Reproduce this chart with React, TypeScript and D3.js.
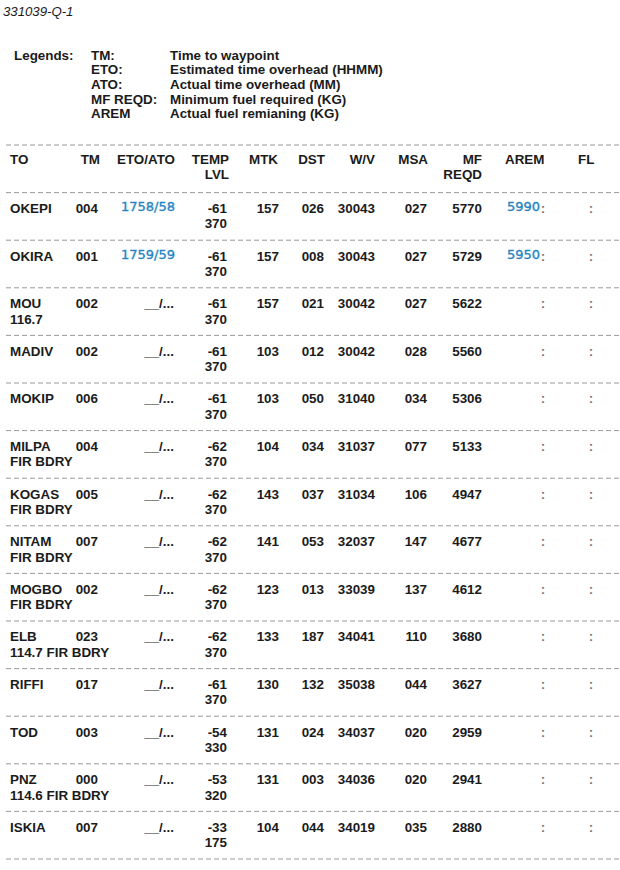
import { useEffect, useRef } from "react"
import * as d3 from "d3"

const title = "331039-Q-1"

const legendKeys = ["TM:", "ETO:", "ATO:", "MF REQD:", "AREM"]
const legendDefs = [
  "Time to waypoint",
  "Estimated time overhead (HHMM)",
  "Actual time overhead (MM)",
  "Minimum fuel required (KG)",
  "Actual fuel remianing (KG)",
]

const headers = [["TO"], ["TM"], ["ETO/ATO"], ["TEMP", "LVL"], ["MTK"], ["DST"], ["W/V"], ["MSA"], ["MF", "REQD"], ["AREM"], ["FL"]]

const waypoints = ["OKEPI", "OKIRA", "MOU", "MADIV", "MOKIP", "MILPA", "KOGAS", "NITAM", "MOGBO", "ELB", "RIFFI", "TOD", "PNZ", "ISKIA"]
const waypointSub = ["", "", "116.7", "", "", "FIR BDRY", "FIR BDRY", "FIR BDRY", "FIR BDRY", "114.7 FIR BDRY", "", "", "114.6 FIR BDRY", ""]
const tm = ["004", "001", "002", "002", "006", "004", "005", "007", "002", "023", "017", "003", "000", "007"]
const etoAto = ["1758/58", "1759/59", "", "", "", "", "", "", "", "", "", "", "", ""]
const temp = ["-61", "-61", "-61", "-61", "-61", "-62", "-62", "-62", "-62", "-62", "-61", "-54", "-53", "-33"]
const lvl = ["370", "370", "370", "370", "370", "370", "370", "370", "370", "370", "370", "330", "320", "175"]
const mtk = ["157", "157", "157", "103", "103", "104", "143", "141", "123", "133", "130", "131", "131", "104"]
const dst = ["026", "008", "021", "012", "050", "034", "037", "053", "013", "187", "132", "024", "003", "044"]
const wv = ["30043", "30043", "30042", "30042", "31040", "31037", "31034", "32037", "33039", "34041", "35038", "34037", "34036", "34019"]
const msa = ["027", "027", "027", "028", "034", "077", "106", "147", "137", "110", "044", "020", "020", "035"]
const mfReqd = [5770, 5729, 5622, 5560, 5306, 5133, 4947, 4677, 4612, 3680, 3627, 2959, 2941, 2880]
const arem = ["5990", "5950", "", "", "", "", "", "", "", "", "", "", "", ""]

const W = 620
const H = 870
const FONT = "'Liberation Sans', Arial, Helvetica, sans-serif"
const BLUE_FONT = "'DejaVu Sans', Verdana, sans-serif"
const FS = 13.4
const INK = "#1b1b1b"
const BLUE = "#2485c2"

// header x / anchor per column
const headerPos: [number, string][] = [
  [10, "start"], [100, "end"], [175, "end"], [229, "end"], [278, "end"], [325, "end"],
  [375, "end"], [428, "end"], [482, "end"], [505, "start"], [578, "start"],
]

export default function App() {
  const ref = useRef<SVGSVGElement>(null)

  useEffect(() => {
    if (!ref.current) return
    const svg = d3.select(ref.current)
    svg.selectAll("*").remove()

    // title
    svg.append("text")
      .attr("x", 3).attr("y", 16)
      .attr("font-family", FONT).attr("font-size", 13.2).attr("font-style", "italic")
      .attr("fill", INK).text(title)

    // legends
    const ly = d3.scaleLinear().domain([0, 1]).range([59.5, 74.2])
    const lg = svg.append("g").attr("font-family", FONT).attr("font-size", FS)
      .attr("font-weight", "bold").attr("fill", INK)
    lg.append("text").attr("x", 14).attr("y", ly(0)).text("Legends:")
    lg.selectAll("text.key").data(legendKeys).join("text").attr("class", "key")
      .attr("x", 91).attr("y", (_, i) => ly(i)).text((d) => d)
    lg.selectAll("text.def").data(legendDefs).join("text").attr("class", "def")
      .attr("x", 170).attr("y", (_, i) => ly(i)).text((d) => d)

    // rows: separator k sits at y(k); band 0 is the header
    const y = d3.scaleLinear().domain([0, waypoints.length + 1]).range([145, 859])
    const L1 = 20.3
    const L2 = 35.8

    svg.append("g").selectAll("line")
      .data(d3.range(waypoints.length + 2))
      .join("line")
      .attr("x1", 6).attr("x2", W)
      .attr("y1", (d) => y(d)).attr("y2", (d) => y(d))
      .attr("stroke", "#9a9a9a").attr("stroke-width", 1)
      .attr("stroke-dasharray", "5,3")

    // header
    const hg = svg.append("g").attr("font-family", FONT).attr("font-size", FS)
      .attr("font-weight", "bold").attr("fill", INK)
    headers.forEach((lines, c) => {
      lines.forEach((t, k) => {
        hg.append("text")
          .attr("x", headerPos[c][0]).attr("y", y(0) + (k === 0 ? L1 - 1.5 : L2 - 1.5))
          .attr("text-anchor", headerPos[c][1]).text(t)
      })
    })

    const bg = svg.append("g").attr("font-family", FONT).attr("font-size", FS)
      .attr("font-weight", "bold").attr("fill", INK)

    const cell = (x: number, anchor: string, values: (string | number)[], line: number) => {
      bg.append("g").attr("text-anchor", anchor).selectAll("text")
        .data(values).join("text")
        .attr("x", x).attr("y", (_, i) => y(i + 1) + line)
        .text((d) => String(d))
    }

    cell(10, "start", waypoints, L1)
    cell(10, "start", waypointSub, L2)
    cell(98, "end", tm, L1)
    cell(174, "end", etoAto.map((d) => (d ? "" : "__/...")), L1)
    cell(227, "end", temp, L1)
    cell(227, "end", lvl, L2)
    cell(279, "end", mtk, L1)
    cell(324, "end", dst, L1)
    cell(375, "end", wv, L1)
    cell(427, "end", msa, L1)
    cell(482, "end", mfReqd, L1)

    // blue filled entries
    const blue = svg.append("g").attr("font-family", BLUE_FONT).attr("font-size", 13)
      .attr("fill", BLUE).attr("stroke", BLUE).attr("stroke-width", 0.35)
    blue.selectAll("text.eto").data(etoAto).join("text").attr("class", "eto")
      .attr("x", 175).attr("y", (_, i) => y(i + 1) + L1 - 1.5)
      .attr("text-anchor", "end").text((d) => d)
    blue.selectAll("text.arem").data(arem).join("text").attr("class", "arem")
      .attr("x", 540).attr("y", (_, i) => y(i + 1) + L1 - 1.5)
      .attr("text-anchor", "end").text((d) => d)

    // colons for AREM / FL
    const cg = svg.append("g").attr("font-family", FONT).attr("font-size", FS)
      .attr("font-weight", "bold").attr("fill", "#7a7a7a").attr("text-anchor", "middle")
    ;[543, 591].forEach((cx) => {
      cg.append("g").selectAll("text").data(waypoints).join("text")
        .attr("x", cx).attr("y", (_, i) => y(i + 1) + L1).text(":")
    })
  }, [])

  return (
    <svg
      ref={ref}
      width={W}
      height={H}
      viewBox={`0 0 ${W} ${H}`}
      style={{ position: "absolute", left: 0, top: 0, background: "#fff" }}
    />
  )
}
